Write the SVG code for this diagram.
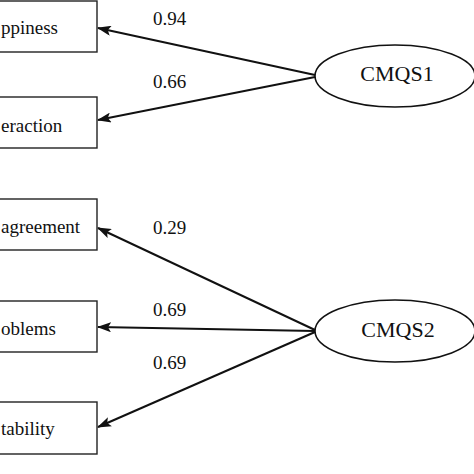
<svg xmlns="http://www.w3.org/2000/svg" width="474" height="474" viewBox="0 0 474 474">
<style>
.box{fill:#fff;stroke:#222;stroke-width:1.4}
.ell{fill:#fff;stroke:#111;stroke-width:1.6}
.t{font-family:"Liberation Serif","Times New Roman",serif;font-size:19px;fill:#111}
.n{font-family:"Liberation Serif","Times New Roman",serif;font-size:19px;fill:#111}
.lt{font-family:"Liberation Serif","Times New Roman",serif;font-size:22px;fill:#111}
.c{stroke:#111;stroke-width:2;fill:none;marker-end:url(#ah)}
</style>
<defs>
<marker id="ah" markerUnits="userSpaceOnUse" markerWidth="14" markerHeight="10" refX="13" refY="5" orient="auto">
<path d="M0,0 L14,5 L0,10 L3,5 Z" fill="#111"/>
</marker>
</defs>
<rect x="0" y="0" width="474" height="474" fill="#fff"/>
<g id="connectors">
<line class="c" x1="315" y1="75" x2="98" y2="28"/>
<line class="c" x1="315" y1="77" x2="98" y2="120"/>
<line class="c" x1="315" y1="330" x2="98" y2="228"/>
<line class="c" x1="315" y1="331" x2="98" y2="327"/>
<line class="c" x1="315" y1="332" x2="98" y2="427"/>
<text class="n" x="153" y="25">0.94</text>
<text class="n" x="153" y="88">0.66</text>
<text class="n" x="153" y="234">0.29</text>
<text class="n" x="153" y="316">0.69</text>
<text class="n" x="153" y="369">0.69</text>
</g>
<g id="happiness"><rect class="box" x="-60" y="1" width="157" height="51"/><text class="t" x="1" y="34">ppiness</text></g>
<g id="interaction"><rect class="box" x="-60" y="97" width="157" height="51"/><text class="t" x="1" y="132">eraction</text></g>
<g id="disagreement"><rect class="box" x="-60" y="199" width="157" height="51"/><text class="t" x="1" y="233">agreement</text></g>
<g id="problems"><rect class="box" x="-60" y="301" width="157" height="51"/><text class="t" x="1" y="335">oblems</text></g>
<g id="stability"><rect class="box" x="-60" y="402" width="157" height="52"/><text class="t" x="1" y="435">tability</text></g>
<g id="cmqs1"><ellipse class="ell" cx="395" cy="76" rx="80" ry="31"/><text class="lt" x="397" y="81" text-anchor="middle">CMQS1</text></g>
<g id="cmqs2"><ellipse class="ell" cx="395" cy="331" rx="80" ry="31"/><text class="lt" x="398" y="337" text-anchor="middle">CMQS2</text></g>
</svg>
